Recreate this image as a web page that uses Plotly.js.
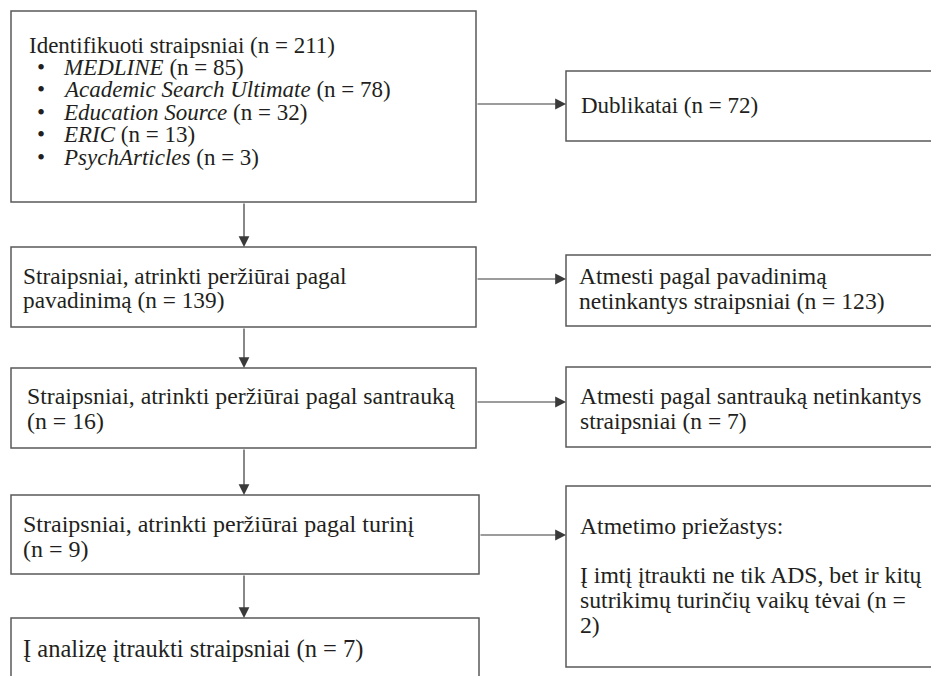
<!DOCTYPE html>
<html>
<head>
<meta charset="utf-8">
<script src="https://cdn.plot.ly/plotly-3.0.1.min.js"></script>
<style>html,body{margin:0;padding:0;background:#fff;}#chart{width:931px;height:676px;}</style>
</head>
<body>
<div id="chart"></div>
<script>
// ---------- DATA ----------
const stageCounts = [211, 139, 16, 9, 7];
const databases = ["MEDLINE", "Academic Search Ultimate", "Education Source", "ERIC", "PsychArticles"];
const databaseCounts = [85, 78, 32, 13, 3];
const excludedCounts = [72, 123, 7, 2];

const stageLines = [
  [`Identifikuoti straipsniai (n = ${stageCounts[0]})`],
  ["Straipsniai, atrinkti peržiūrai pagal", `pavadinimą (n = ${stageCounts[1]})`],
  ["Straipsniai, atrinkti peržiūrai pagal santrauką", `(n = ${stageCounts[2]})`],
  ["Straipsniai, atrinkti peržiūrai pagal turinį", `(n = ${stageCounts[3]})`],
  [`Į analizę įtraukti straipsniai (n = ${stageCounts[4]})`]
];
const bulletLines = databases.map((d, i) => `<i>${d}</i> (n = ${databaseCounts[i]})`);
const excludedLines = [
  [`Dublikatai (n = ${excludedCounts[0]})`],
  ["Atmesti pagal pavadinimą", `netinkantys straipsniai (n = ${excludedCounts[1]})`],
  ["Atmesti pagal santrauką netinkantys", `straipsniai (n = ${excludedCounts[2]})`],
  ["Atmetimo priežastys:", "", "Į imtį įtraukti ne tik ADS, bet ir kitų", "sutrikimų turinčių vaikų tėvai (n =", `${excludedCounts[3]})`]
];

// ---------- LAYOUT GEOMETRY (pixels, y downward) ----------
const leftBoxes = [
  {x0: 11, x1: 476, y0: 11, y1: 202, tx: 27, ty: 52, pitch: 22.4, fs: 23},
  {x0: 11, x1: 476, y0: 247, y1: 327, tx: 21, ty: 283, pitch: 24, fs: 23.3},
  {x0: 11, x1: 476, y0: 368, y1: 448, tx: 25, ty: 403, pitch: 25, fs: 23.8},
  {x0: 11, x1: 479, y0: 495, y1: 574, tx: 21, ty: 531, pitch: 25, fs: 24},
  {x0: 11, x1: 479, y0: 618, y1: 700, tx: 21, ty: 656, pitch: 24, fs: 24.5}
];
const rightBoxes = [
  {x0: 566, x1: 945, y0: 71, y1: 141, tx: 579, ty: 112, pitch: 24, fs: 23, arrowY: 104},
  {x0: 566, x1: 945, y0: 255, y1: 326, tx: 577, ty: 283, pitch: 25, fs: 23.6, arrowY: 279},
  {x0: 566, x1: 945, y0: 367, y1: 447, tx: 578, ty: 403, pitch: 25, fs: 23.5, arrowY: 402},
  {x0: 566, x1: 945, y0: 486, y1: 667, tx: 578, ty: 533, pitch: 24.7, fs: 23.7, arrowY: 535}
];
const bulletX = 35, bulletTextX = 61;
const downX = 244;

const TEXT_COLOR = "#231f20";
const BOX_COLOR = "#5a5a5a";
const ARROW_COLOR = "#3a3a3a";
const FAMILY = "Liberation Serif, Times New Roman, serif";

const shapes = [];
const annotations = [];

function boxShape(b) {
  shapes.push({type: "rect", xref: "x", yref: "y", x0: b.x0, x1: b.x1, y0: b.y0, y1: b.y1,
    line: {color: BOX_COLOR, width: 1.5}, fillcolor: "rgba(0,0,0,0)"});
}
function textLine(x, baseline, txt, fs) {
  if (!txt) return;
  annotations.push({x: x, y: baseline - 0.3 * fs, xref: "x", yref: "y", text: txt, showarrow: false,
    xanchor: "left", yanchor: "middle", align: "left",
    font: {family: FAMILY, size: fs, color: TEXT_COLOR}});
}
function arrow(x0, y0, x1, y1) {
  annotations.push({x: x1, y: y1, ax: x0, ay: y0, xref: "x", yref: "y", axref: "x", ayref: "y",
    text: "", showarrow: true, arrowhead: 2, arrowsize: 1.8, arrowwidth: 1.2, arrowcolor: ARROW_COLOR, standoff: 0});
}

leftBoxes.forEach((b, i) => {
  boxShape(b);
  stageLines[i].forEach((t, j) => textLine(b.tx, b.ty + j * b.pitch, t, b.fs));
  if (i === 0) {
    bulletLines.forEach((t, j) => {
      textLine(bulletX, b.ty + (j + 1) * b.pitch, "•", b.fs);
      textLine(bulletTextX, b.ty + (j + 1) * b.pitch, t, b.fs);
    });
  }
  if (i < leftBoxes.length - 1) arrow(downX, b.y1, downX, leftBoxes[i + 1].y0);
});
rightBoxes.forEach((b, i) => {
  boxShape(b);
  excludedLines[i].forEach((t, j) => textLine(b.tx, b.ty + j * b.pitch, t, b.fs));
  arrow(leftBoxes[i].x1, b.arrowY, b.x0, b.arrowY);
});

const layout = {
  width: 931, height: 676,
  margin: {l: 0, r: 0, t: 0, b: 0, pad: 0},
  paper_bgcolor: "#fff", plot_bgcolor: "#fff",
  font: {family: FAMILY, size: 23, color: TEXT_COLOR},
  xaxis: {range: [0, 931], visible: false, fixedrange: true},
  yaxis: {range: [676, 0], visible: false, fixedrange: true},
  showlegend: false,
  shapes: shapes,
  annotations: annotations
};
Plotly.newPlot("chart", [], layout, {displayModeBar: false, staticPlot: true});
</script>
</body>
</html>
